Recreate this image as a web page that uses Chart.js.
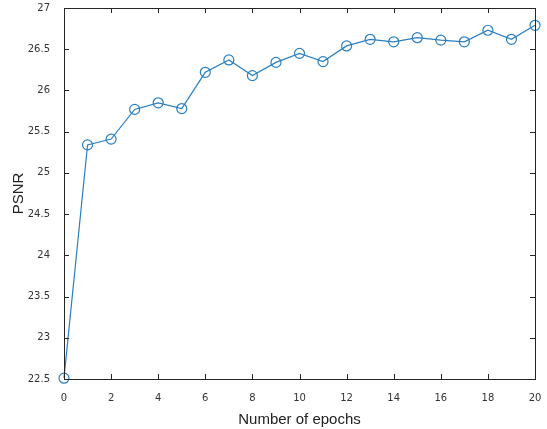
<!DOCTYPE html>
<html lang="en">
<head>
<meta charset="UTF-8">
<script src="https://cdn.jsdelivr.net/npm/chart.js"></script>
<title>PSNR vs epochs</title>
<style>
  html, body { margin: 0; padding: 0; background: #fff; }
  canvas { display: block; }
</style>
</head>
<body>
<canvas id="myChart" width="547" height="429"></canvas>
<script>
  // epochs and PSNR
  const epochs = [0, 1, 2, 3, 4, 5, 6, 7, 8, 9, 10, 11, 12, 13, 14, 15, 16, 17, 18, 19, 20];
  const psnr = [22.51, 25.34, 25.41, 25.77, 25.85, 25.78, 26.22, 26.37, 26.18, 26.34, 26.45,
                26.35, 26.54, 26.62, 26.59, 26.64, 26.61, 26.59, 26.73, 26.62, 26.79];
  const xTicks = [0, 2, 4, 6, 8, 10, 12, 14, 16, 18, 20];
  const yTicks = [22.5, 23, 23.5, 24, 24.5, 25, 25.5, 26, 26.5, 27];

  const lineColor = '#2a7fc0';

  // matlab-like box with inward ticks
  const boxPlugin = {
    id: 'box',
    afterDraw(chart) {
      const { ctx, chartArea: a, scales } = chart;
      ctx.save();
      ctx.strokeStyle = '#262626';
      ctx.lineWidth = 1;
      ctx.strokeRect(Math.round(a.left) + 0.5, Math.round(a.top) + 0.5,
        Math.round(a.right - a.left), Math.round(a.bottom - a.top));
      ctx.beginPath();
      const len = 5;
      xTicks.forEach(v => {
        const x = Math.round(scales.x.getPixelForValue(v)) + 0.5;
        ctx.moveTo(x, a.bottom); ctx.lineTo(x, a.bottom - len);
        ctx.moveTo(x, a.top); ctx.lineTo(x, a.top + len);
      });
      yTicks.forEach(v => {
        const y = Math.round(scales.y.getPixelForValue(v)) + 0.5;
        ctx.moveTo(a.left, y); ctx.lineTo(a.left + len, y);
        ctx.moveTo(a.right, y); ctx.lineTo(a.right - len, y);
      });
      ctx.stroke();
      ctx.restore();
    }
  };

  const ctx = document.getElementById('myChart').getContext('2d');
  new Chart(ctx, {
    type: 'line',
    data: {
      datasets: [{
        data: epochs.map((e, i) => ({ x: e, y: psnr[i] })),
        borderColor: lineColor,
        borderWidth: 1.2,
        pointStyle: 'circle',
        pointRadius: 5,
        pointBorderWidth: 1.2,
        pointBorderColor: lineColor,
        pointBackgroundColor: 'rgba(0,0,0,0)',
        tension: 0,
        clip: false
      }]
    },
    options: {
      responsive: false,
      animation: false,
      layout: { padding: { left: 0, top: 8, right: 12, bottom: 0 } },
      plugins: { legend: { display: false }, tooltip: { enabled: false } },
      scales: {
        x: {
          type: 'linear',
          min: 0, max: 20,
          afterBuildTicks: s => { s.ticks = xTicks.map(v => ({ value: v })); },
          afterFit: s => { s.height = 50; s.paddingLeft = 0; s.paddingRight = 0; },
          grid: { display: false },
          border: { display: false },
          ticks: { color: '#333', font: { family: 'DejaVu Sans', size: 10 }, padding: 5, maxRotation: 0 },
          title: { display: true, text: 'Number of epochs', color: '#222',
                   font: { family: 'Liberation Sans', size: 15 }, padding: { top: 2, bottom: 0 } }
        },
        y: {
          min: 22.5, max: 27,
          afterBuildTicks: s => { s.ticks = yTicks.map(v => ({ value: v })); },
          afterFit: s => { s.width = 64; s.paddingTop = 0; s.paddingBottom = 0; },
          grid: { display: false },
          border: { display: false },
          ticks: { color: '#333', font: { family: 'DejaVu Sans', size: 10 }, padding: 6,
                   callback: v => String(v) },
          title: { display: true, text: 'PSNR', color: '#222',
                   font: { family: 'Liberation Sans', size: 15 }, padding: { top: 10, bottom: 0 } }
        }
      }
    },
    plugins: [boxPlugin]
  });
</script>
</body>
</html>
